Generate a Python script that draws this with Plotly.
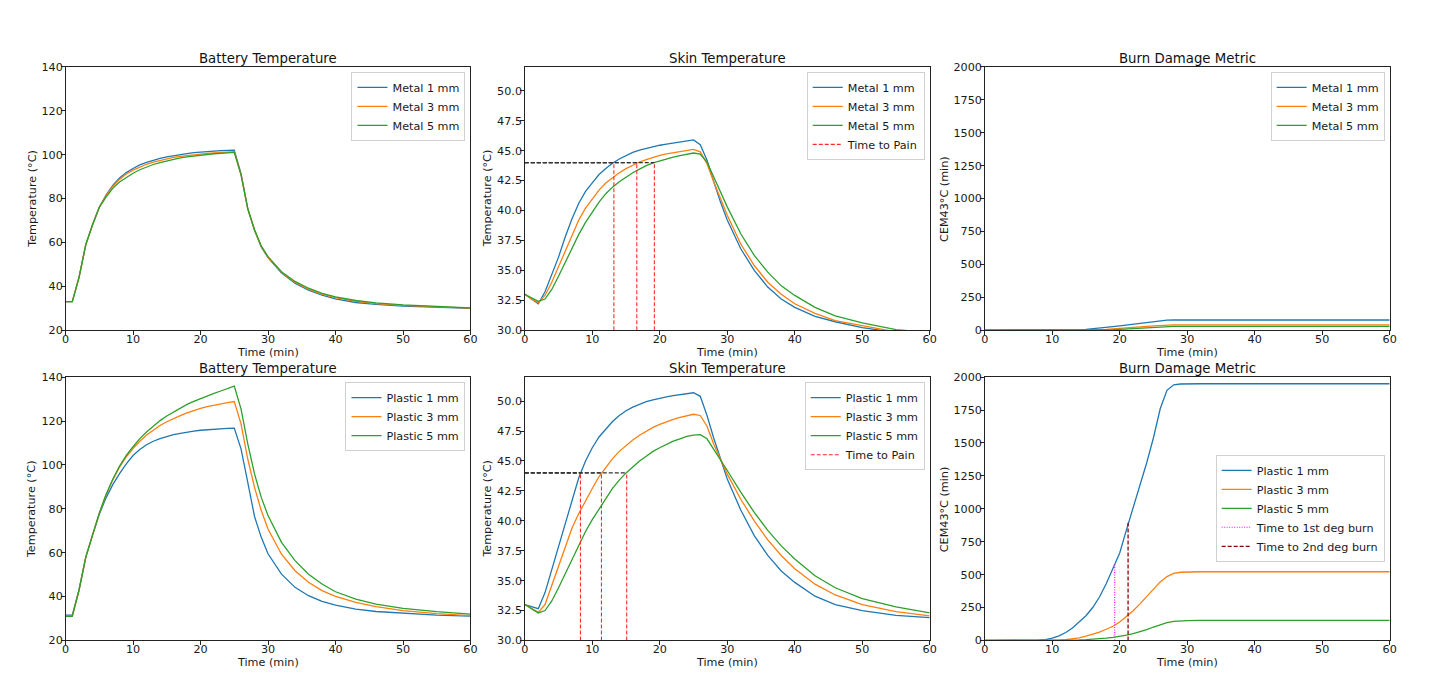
import plotly.graph_objects as go

# ---------------- data ----------------
TIME = [0, 1, 2, 3, 4, 5, 6, 7, 8, 9, 10, 11, 12, 13, 14, 15, 16, 17, 18, 19, 20,
        21, 22, 23, 24, 25, 26, 27, 28, 29, 30, 32, 34, 36, 38, 40, 43, 46, 50, 55, 60]

# Battery temperature (°C)
bat_metal_1 = [33, 33, 44, 59, 68, 76, 81.5, 86, 89.3, 91.8, 93.7, 95.3, 96.5, 97.5, 98.3, 99, 99.6, 100.1, 100.5, 100.9, 101.2,
               101.4, 101.6, 101.8, 101.9, 102, 91.3, 75.3, 65.5, 57.9, 53.0, 46.0, 41.4, 38.2, 35.9, 34.2, 32.6, 31.7, 30.9, 30.3, 29.9]
bat_metal_3 = [33, 33, 44, 59, 68, 76, 81.2, 85.5, 88.7, 91.2, 92.9, 94.4, 95.6, 96.6, 97.4, 98.1, 98.7, 99.2, 99.6, 100, 100.3,
               100.6, 100.8, 101, 101.2, 101.3, 91.0, 75.3, 65.6, 58.1, 53.2, 46.3, 41.8, 38.7, 36.4, 34.8, 33.1, 32.1, 31.3, 30.6, 30.0]
bat_metal_5 = [33, 33, 44, 59, 68, 76, 80.6, 84.6, 87.5, 89.7, 91.5, 93.1, 94.4, 95.5, 96.4, 97.2, 97.9, 98.5, 99, 99.4, 99.8,
               100.1, 100.4, 100.6, 100.8, 101, 90.8, 75.4, 65.8, 58.4, 53.5, 46.6, 42.2, 39.1, 36.8, 35.2, 33.5, 32.4, 31.5, 30.7, 30.1]
bat_plastic_1 = [31.5, 31.5, 43, 58, 68, 77.5, 85, 91, 96, 100.5, 104.3, 107, 109.2, 110.8, 112, 113, 113.8, 114.4, 115, 115.4, 115.8,
                 116.1, 116.3, 116.5, 116.7, 116.8, 107.3, 92, 76.5, 67, 59.5, 50.2, 44.2, 40.4, 37.8, 36.1, 34.3, 33.2, 32.3, 31.5, 31.1]
bat_plastic_3 = [31, 31, 43, 58, 68, 78, 86.3, 93.2, 99, 103.7, 107.5, 110.8, 113.6, 116, 118, 119.7, 121.2, 122.5, 123.7, 124.8, 125.8,
                 126.6, 127.3, 127.9, 128.4, 128.9, 118.7, 102.7, 89.8, 79.2, 70.8, 59.3, 51.8, 46.5, 42.7, 40.1, 37.3, 35.4, 33.6, 32.2, 31.3]
bat_plastic_5 = [31, 31, 43, 58, 68, 78, 86.5, 93.5, 99.5, 104.3, 108.3, 112, 115, 117.8, 120.2, 122.3, 124.2, 126, 127.6, 129, 130.3,
                 131.5, 132.6, 133.7, 134.8, 135.9, 125.5, 109.6, 95.9, 85.2, 76.9, 64.7, 56.4, 50.2, 45.7, 42.2, 38.8, 36.6, 34.6, 33.1, 32.0]

# Skin temperature (°C)
skin_metal_1 = [33.0, 32.6, 32.2, 33.2, 34.6, 36.1, 37.8, 39.3, 40.6, 41.6, 42.3, 43.0, 43.5, 43.95, 44.3, 44.6, 44.85, 45.05, 45.2, 45.35, 45.45,
                45.55, 45.65, 45.75, 45.85, 45.9, 45.5, 44.2, 42.4, 40.7, 39.2, 36.8, 35.0, 33.6, 32.6, 31.9, 31.15, 30.7, 30.2, 29.8, 29.5]
skin_metal_3 = [33.0, 32.6, 32.3, 32.9, 34.0, 35.3, 36.7, 38.0, 39.2, 40.2, 41.0, 41.7, 42.3, 42.75, 43.15, 43.5, 43.8, 44.05, 44.25, 44.45, 44.6,
                44.72, 44.83, 44.93, 45.03, 45.1, 44.9, 43.9, 42.4, 41.0, 39.6, 37.2, 35.4, 34.0, 33.0, 32.2, 31.4, 30.8, 30.35, 29.85, 29.6]
skin_metal_5 = [33.0, 32.7, 32.4, 32.6, 33.4, 34.5, 35.7, 36.9, 38.0, 39.0, 39.9, 40.7, 41.4, 41.95, 42.4, 42.8, 43.15, 43.45, 43.75, 43.97, 44.15,
                44.3, 44.45, 44.58, 44.7, 44.8, 44.7, 44.05, 42.8, 41.5, 40.3, 38.05, 36.25, 34.85, 33.7, 32.9, 31.9, 31.2, 30.6, 30.05, 29.8]
skin_plastic_1 = [33.0, 32.8, 32.65, 34.0, 35.9, 37.8, 39.8, 41.8, 43.6, 45.0, 46.1, 47.0, 47.7, 48.3, 48.8, 49.2, 49.5, 49.75, 49.95, 50.1, 50.25,
                  50.35, 50.45, 50.55, 50.62, 50.7, 50.4, 48.8, 46.9, 45.1, 43.5, 40.9, 38.76, 37.1, 35.8, 34.85, 33.7, 33.0, 32.5, 32.1, 31.9]
skin_plastic_3 = [33.0, 32.65, 32.35, 33.0, 34.6, 36.3, 37.9, 39.4, 40.6, 41.7, 42.7, 43.7, 44.5, 45.2, 45.8, 46.3, 46.75, 47.15, 47.5, 47.8, 48.05,
                  48.28, 48.48, 48.65, 48.8, 48.9, 48.8, 47.9, 46.4, 45.1, 43.9, 41.8, 40.0, 38.4, 37.1, 36.0, 34.7, 33.8, 33.0, 32.4, 32.05]
skin_plastic_5 = [33.0, 32.65, 32.3, 32.5, 33.3, 34.4, 35.6, 36.8, 38.0, 39.1, 40.1, 41.0, 41.9, 42.7, 43.4, 44.0, 44.5, 45.0, 45.4, 45.8, 46.1,
                  46.4, 46.65, 46.85, 47.05, 47.15, 47.2, 46.85, 46.0, 45.1, 44.2, 42.4, 40.7, 39.2, 37.9, 36.8, 35.4, 34.4, 33.5, 32.8, 32.3]

# Burn damage metric CEM43 (min)
burn_metal_1 = [0, 0, 0, 0, 0, 0, 0, 0, 0, 0, 0, 0, 0, 1, 3, 6, 10, 15, 21, 27, 33,
                39, 45, 52, 58, 65, 71, 76, 77, 77, 77, 77, 77, 77, 77, 77, 77, 77, 77, 77, 77]
burn_metal_3 = [0, 0, 0, 0, 0, 0, 0, 0, 0, 0, 0, 0, 0, 0, 0, 1, 2, 4, 6, 9, 12,
                16, 20, 24, 29, 33, 37, 39, 40, 40, 40, 40, 40, 40, 40, 40, 40, 40, 40, 40, 40]
burn_metal_5 = [0, 0, 0, 0, 0, 0, 0, 0, 0, 0, 0, 0, 0, 0, 0, 0, 0, 1, 2, 4, 6,
                9, 12, 16, 19, 23, 26, 28, 29, 29, 29, 29, 29, 29, 29, 29, 29, 29, 29, 29, 29]
burn_plastic_1 = [0, 0, 0, 0, 0, 0, 0, 0, 2, 7, 18, 35, 60, 95, 138, 188, 250, 330, 430, 545, 665,
                  840, 1010, 1170, 1350, 1540, 1760, 1900, 1942, 1948, 1950, 1950, 1950, 1950, 1950, 1950, 1950, 1950, 1950, 1950, 1950]
burn_plastic_3 = [0, 0, 0, 0, 0, 0, 0, 0, 0, 0, 1, 3, 6, 11, 20, 32, 46, 63, 85, 108, 140,
                  180, 225, 278, 335, 392, 445, 485, 510, 518, 521, 522, 522, 522, 522, 522, 522, 522, 522, 522, 522]
burn_plastic_5 = [0, 0, 0, 0, 0, 0, 0, 0, 0, 0, 0, 0, 1, 2, 4, 6, 9, 13, 18, 24, 31,
                  40, 51, 65, 82, 102, 121, 136, 145, 149, 151, 152, 152, 152, 152, 152, 152, 152, 152, 152, 152]

PAIN_TEMP = 44.0
pain_times_metal = [13.2, 16.6, 19.2]
pain_times_plastic = [8.25, 11.36, 15.1]
burn1_time, burn1_level = 19.26, 585
burn2_time, burn2_level = 21.24, 895

metal_labels = ["Metal 1 mm", "Metal 3 mm", "Metal 5 mm"]
plastic_labels = ["Plastic 1 mm", "Plastic 3 mm", "Plastic 5 mm"]
COLORS = ["#1f77b4", "#ff7f0e", "#2ca02c"]

# ---------------- figure ----------------
W, H = 1442, 684
FONT = "DejaVu Sans"
# measured mapping from figure pixels to the photographed picture
OFF_X, SCALE_X = 3.45, 0.9925
OFF_Y, SCALE_Y = 6.2, 0.980
fig = go.Figure()

# panel pixel boxes in picture coordinates (left, right, top, bottom)
cols_px = [(65, 470), (524.3, 929.3), (984.3, 1389.3)]
rows_px = [(67, 330), (377, 640)]


def px_x(p):
    return ((p - OFF_X) / SCALE_X) / W


def px_y(p):
    return 1 - ((p - OFF_Y) / SCALE_Y) / H


LW = 1.3


def add_series(idx, xs, ys_list, labels, legend):
    for ys, lab, col in zip(ys_list, labels, COLORS):
        fig.add_trace(go.Scatter(x=xs, y=ys, mode="lines", name=lab,
                                 line=dict(color=col, width=LW),
                                 xaxis=f"x{idx}", yaxis=f"y{idx}", legend=legend,
                                 hoverinfo="skip"))


def add_pain(idx, times, legend):
    for t in times:
        fig.add_trace(go.Scatter(x=[0, t], y=[PAIN_TEMP, PAIN_TEMP], mode="lines",
                                 line=dict(color="#333333", width=1.1, dash="4px,2px"),
                                 xaxis=f"x{idx}", yaxis=f"y{idx}", showlegend=False,
                                 hoverinfo="skip"))
    for i, t in enumerate(times):
        fig.add_trace(go.Scatter(x=[t, t], y=[30, PAIN_TEMP], mode="lines", name="Time to Pain",
                                 line=dict(color="#ff2a2a", width=1.1, dash="4px,2px"),
                                 xaxis=f"x{idx}", yaxis=f"y{idx}", legend=legend,
                                 showlegend=(i == 0), hoverinfo="skip"))


# Row 1: metal
add_series(1, TIME, [bat_metal_1, bat_metal_3, bat_metal_5], metal_labels, "legend")
add_series(2, TIME, [skin_metal_1, skin_metal_3, skin_metal_5], metal_labels, "legend2")
add_pain(2, pain_times_metal, "legend2")
add_series(3, TIME, [burn_metal_1, burn_metal_3, burn_metal_5], metal_labels, "legend3")
# Row 2: plastic
add_series(4, TIME, [bat_plastic_1, bat_plastic_3, bat_plastic_5], plastic_labels, "legend4")
add_series(5, TIME, [skin_plastic_1, skin_plastic_3, skin_plastic_5], plastic_labels, "legend5")
add_pain(5, pain_times_plastic, "legend5")
add_series(6, TIME, [burn_plastic_1, burn_plastic_3, burn_plastic_5], plastic_labels, "legend6")
fig.add_trace(go.Scatter(x=[burn1_time, burn1_time], y=[0, burn1_level], mode="lines",
                         name="Time to 1st deg burn",
                         line=dict(color="#ff00ff", width=1.1, dash="1px,1.5px"),
                         xaxis="x6", yaxis="y6", legend="legend6", hoverinfo="skip"))
fig.add_trace(go.Scatter(x=[burn2_time, burn2_time], y=[0, burn2_level], mode="lines",
                         name="Time to 2nd deg burn",
                         line=dict(color="#8b0000", width=1.3, dash="4px,2px"),
                         xaxis="x6", yaxis="y6", legend="legend6", hoverinfo="skip"))

# axes
y_ranges = {1: [20, 140], 2: [30, 52], 3: [0, 2000], 4: [20, 140], 5: [30, 52], 6: [0, 2000]}
y_dticks = {1: 20, 2: 2.5, 3: 250, 4: 20, 5: 2.5, 6: 250}
y_formats = {1: "d", 2: ".1f", 3: "d", 4: "d", 5: ".1f", 6: "d"}

axis_common = dict(showline=True, linecolor="#222222", linewidth=1, mirror=True,
                   ticks="outside", ticklen=3.5, tickcolor="#222222", tickwidth=1,
                   showgrid=False, zeroline=False,
                   tickfont=dict(family=FONT, size=11.2, color="#1a1a1a"))

layout_axes = {}
for idx in range(1, 7):
    r = (idx - 1) // 3
    c = (idx - 1) % 3
    l, rr = cols_px[c]
    t, b = rows_px[r]
    xa = dict(axis_common, domain=[px_x(l), px_x(rr)], range=[0, 60], dtick=10, tick0=0,
              anchor=f"y{idx}", ticklabelstandoff=-5)
    ya = dict(axis_common, domain=[px_y(b), px_y(t)], range=y_ranges[idx], dtick=y_dticks[idx],
              tick0=y_ranges[idx][0], tickformat=y_formats[idx], anchor=f"x{idx}",
              ticklabelstandoff=-4)
    layout_axes["xaxis" if idx == 1 else f"xaxis{idx}"] = xa
    layout_axes["yaxis" if idx == 1 else f"yaxis{idx}"] = ya

# legends
leg_common = dict(bgcolor="rgba(255,255,255,0.8)", bordercolor="#d0d0d0", borderwidth=1,
                  font=dict(family=FONT, size=11.2, color="#1a1a1a"), xanchor="right",
                  itemwidth=30, tracegroupgap=0)
legends = {}
legend_pos = {
    "legend": (465, 72, "top"),
    "legend2": (924.3, 72, "top"),
    "legend3": (1384.3, 72, "top"),
    "legend4": (465, 382, "top"),
    "legend5": (924.3, 382, "top"),
    "legend6": (1384.3, 508, "middle"),
}
for name, (xp, yp, ya) in legend_pos.items():
    legends[name] = dict(leg_common, x=px_x(xp), y=px_y(yp), yanchor=ya)

# annotations: titles and axis labels
ann = []
titles = ["Battery Temperature", "Skin Temperature", "Burn Damage Metric"]
ylabels = ["Temperature (°C)", "Temperature (°C)", "CEM43°C (min)"]
ylabel_x = [31.7, 487.3, 944]
title_y = [58.3, 368.3]
xlabel_y = [352.5, 662.5]
for r in range(2):
    for c in range(3):
        l, rr = cols_px[c]
        t, b = rows_px[r]
        cx = (l + rr) / 2
        ann.append(dict(text=titles[c], x=px_x(cx), y=px_y(title_y[r]), xref="paper", yref="paper",
                        xanchor="center", yanchor="middle", showarrow=False,
                        font=dict(family=FONT, size=13.3, color="#111111")))
        ann.append(dict(text="Time (min)", x=px_x(cx), y=px_y(xlabel_y[r]), xref="paper", yref="paper",
                        xanchor="center", yanchor="middle", showarrow=False,
                        font=dict(family=FONT, size=11.2, color="#1a1a1a")))
        ann.append(dict(text=ylabels[c], x=px_x(ylabel_x[c]), y=px_y((t + b) / 2), xref="paper",
                        yref="paper", xanchor="center", yanchor="middle", showarrow=False,
                        textangle=-90, font=dict(family=FONT, size=11.2, color="#1a1a1a")))

fig.update_layout(
    width=W, height=H, margin=dict(l=0, r=0, t=0, b=0),
    paper_bgcolor="white", plot_bgcolor="white",
    font=dict(family=FONT, size=11.2, color="#1a1a1a"),
    annotations=ann,
    **layout_axes,
    **legends,
)

fig.write_html("out.html")
